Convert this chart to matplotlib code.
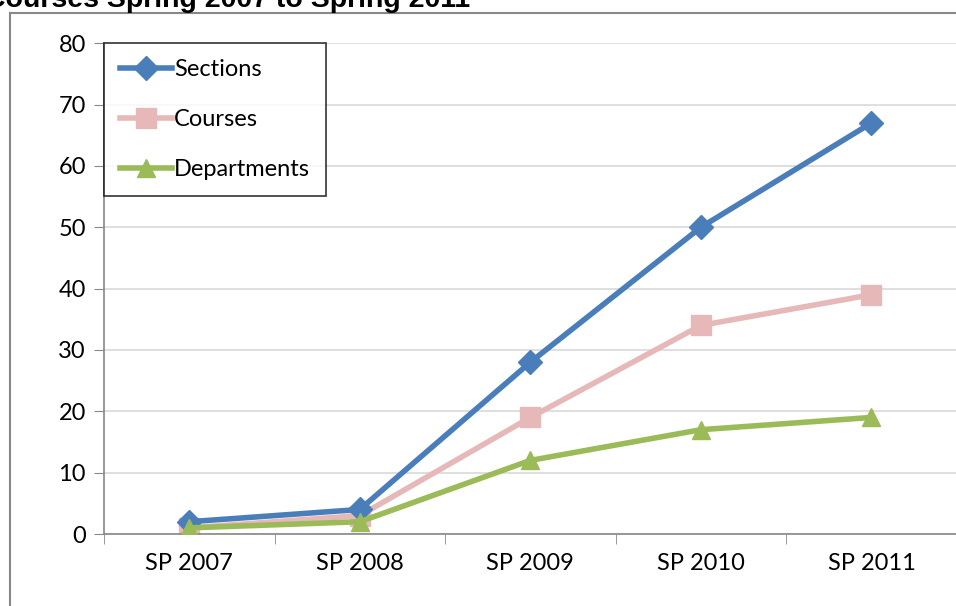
import matplotlib.pyplot as plt
from matplotlib.lines import Line2D

terms = ["SP 2007", "SP 2008", "SP 2009", "SP 2010", "SP 2011"]
sections = [2, 4, 28, 50, 67]
courses = [1, 3, 19, 34, 39]
departments = [1, 2, 12, 17, 19]

plt.rcParams['font.family'] = ['Lato', 'DejaVu Sans']

fig = plt.figure(figsize=(9.56, 6.06), dpi=100)
ax = fig.add_axes([0.1088, 0.1188, 0.892, 0.810])

x = list(range(len(terms)))
ax.plot(x, sections, color="#4a7ebb", lw=4, marker="D", ms=12,
        label="Sections", zorder=3)
ax.plot(x, courses, color="#e6b9b8", lw=4, marker="s", ms=14,
        label="Courses", zorder=2)
ax.plot(x, departments, color="#9bbb59", lw=4, marker="^", ms=13,
        label="Departments", zorder=4)

ax.set_xlim(-0.5, len(terms) - 0.5)
ax.set_ylim(0, 80)
ax.set_yticks(range(0, 81, 10))
ax.set_xticks(x)
ax.set_xticklabels(terms)
ax.set_xticks([i - 0.5 for i in range(len(terms) + 1)], minor=True)
ax.tick_params(axis='x', which='major', length=0, labelsize=17, pad=14)
ax.tick_params(axis='x', which='minor', length=7, color="#888888",
               direction='out')
ax.tick_params(axis='y', length=7, color="#888888", labelsize=17, pad=6)
ax.grid(axis='y', color="#d9d9d9", lw=1.2)
ax.set_axisbelow(True)
for s in ['top', 'right']:
    ax.spines[s].set_visible(False)
for s in ['left', 'bottom']:
    ax.spines[s].set_color("#888888")
    ax.spines[s].set_linewidth(1.2)

leg = ax.legend(loc="upper left", bbox_to_anchor=(0.0, 1.0), fontsize=17,
                frameon=True, fancybox=False, handlelength=2.2,
                handletextpad=0.1, labelspacing=1.22, borderpad=0.68,
                borderaxespad=0)
leg.get_frame().set_edgecolor("black")
leg.get_frame().set_linewidth(1.2)

# outer chart frame (partly visible)
fig.add_artist(Line2D([0.0105, 0.0105], [0, 0.979], color="#888888", lw=1.5))
fig.add_artist(Line2D([0.0105, 1.0], [0.979, 0.979], color="#888888", lw=1.5))

fig.text(0.4916, 0.9885, "Courses Spring 2007 to Spring 2011", fontsize=20.5,
         fontweight='bold', family='Liberation Sans', va='baseline', ha='right')

fig.savefig("out.png", dpi=100)
